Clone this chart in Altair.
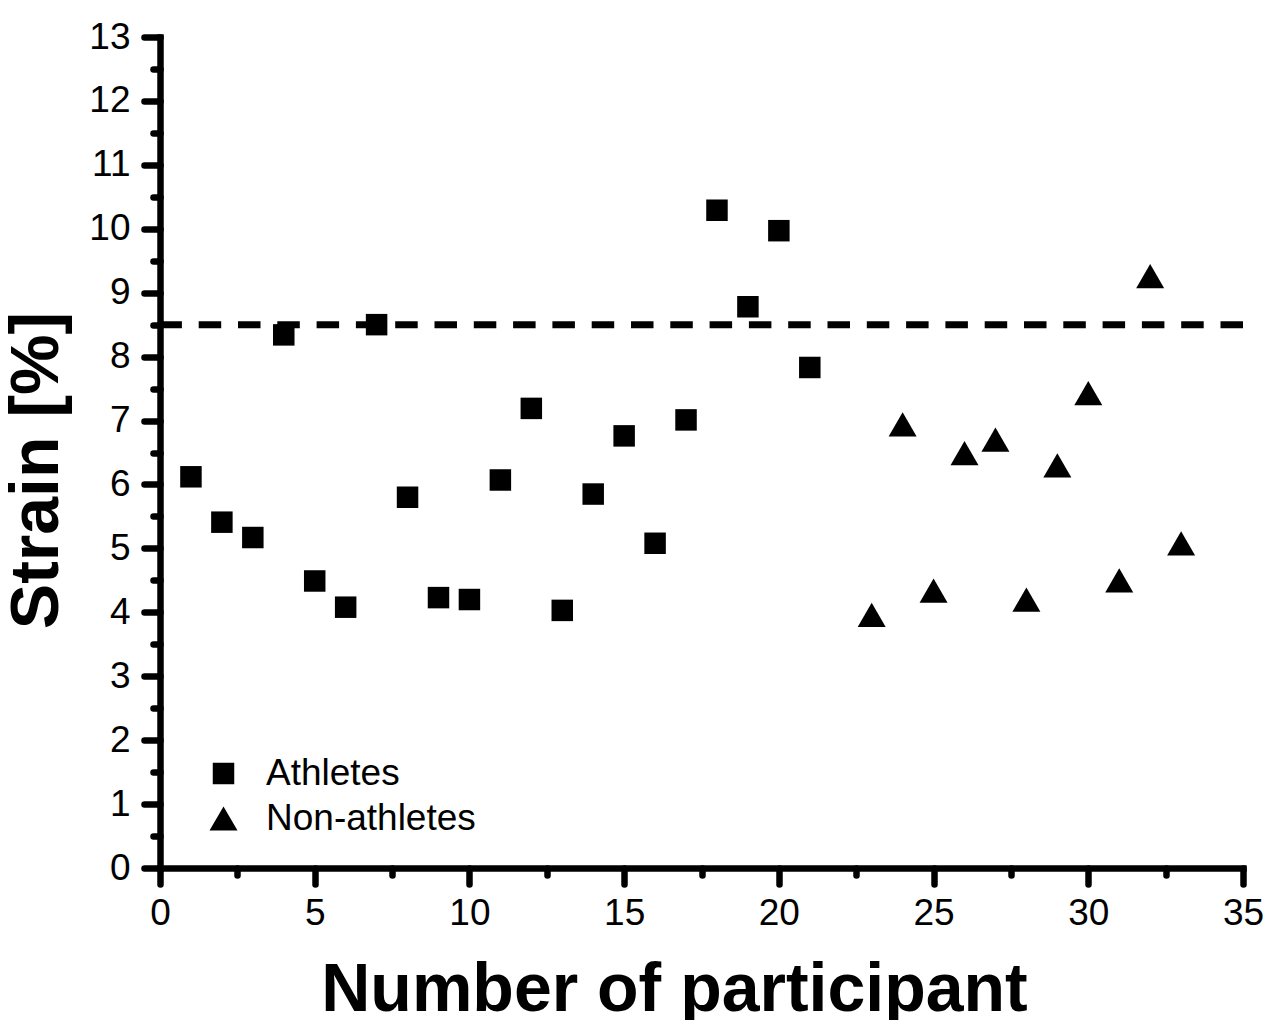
import altair as alt
import pandas as pd

# ---- data ----
athlete_ids = list(range(1, 22))
athlete_strain = [6.12, 5.41, 5.17, 8.34, 4.49, 4.08, 8.50, 5.80, 4.23, 4.20, 6.07,
                  7.19, 4.03, 5.85, 6.76, 5.08, 7.01, 10.29, 8.78, 9.97, 7.83]
non_athlete_ids = list(range(23, 34))
non_athlete_strain = [3.96, 6.94, 4.34, 6.49, 6.70, 4.20, 6.30, 7.43, 4.50, 9.26, 5.08]
threshold = 8.5
groups = ["Athletes", "Non-athletes"]
x_major_ticks = [0, 5, 10, 15, 20, 25, 30, 35]
x_minor_ticks = [2.5, 7.5, 12.5, 17.5, 22.5, 27.5, 32.5]
y_major_ticks = list(range(0, 14))
y_minor_ticks = [i + 0.5 for i in range(13)]

df = pd.DataFrame({
    "participant": athlete_ids + non_athlete_ids,
    "strain": athlete_strain + non_athlete_strain,
    "group": [groups[0]] * len(athlete_ids) + [groups[1]] * len(non_athlete_ids),
})

FONT = "Liberation Sans"

x_scale = alt.Scale(domain=[0, 35], nice=False, zero=False)
y_scale = alt.Scale(domain=[0, 13], nice=False, zero=False)

common = dict(tickWidth=6.5, tickCap="round", tickColor="black", grid=False)

x_axis = alt.Axis(
    orient="bottom", values=x_major_ticks, format="d", tickSize=16,
    domainWidth=6.5, domainColor="black", domainCap="square",
    labelFont=FONT, labelFontSize=37, labelColor="black", labelPadding=11,
    labelOverlap=False, labelFlush=False,
    title="Number of participant", titleFont=FONT, titleFontSize=68,
    titleFontWeight="bold", titleColor="black",
    titleX=514, titleY=142, titleBaseline="alphabetic", titleAlign="center",
    **common,
)
y_axis = alt.Axis(
    orient="left", values=y_major_ticks, format="d", tickSize=16,
    domainWidth=6.5, domainColor="black", domainCap="square",
    labelFont=FONT, labelFontSize=37, labelColor="black", labelPadding=14,
    labelOverlap=False, labelFlush=False,
    title="Strain [%]", titleFont=FONT, titleFontSize=68,
    titleFontWeight="bold", titleColor="black", titleAngle=270,
    titleX=-103, titleY=433, titleBaseline="alphabetic", titleAlign="center",
    **common,
)
x_minor_axis = alt.Axis(orient="bottom", values=x_minor_ticks, tickSize=7, labels=False,
                        domain=False, title=None, **common)
y_minor_axis = alt.Axis(orient="left", values=y_minor_ticks, tickSize=7, labels=False,
                        domain=False, title=None, **common)

legend = alt.Legend(title=None, orient="none", legendX=45, legendY=718,
                    labelFont=FONT, labelFontSize=37, labelColor="black", labelLimit=500,
                    labelOffset=24, rowPadding=7, padding=0,
                    symbolFillColor="black", symbolStrokeColor="black",
                    symbolOpacity=1, symbolStrokeWidth=0)

points = alt.Chart(df).mark_point(filled=True, opacity=1, color="black", strokeWidth=0).encode(
    x=alt.X("participant:Q", scale=x_scale, axis=x_axis),
    y=alt.Y("strain:Q", scale=y_scale, axis=y_axis),
    shape=alt.Shape("group:N", scale=alt.Scale(domain=groups, range=["square", "triangle-up"]),
                    legend=legend),
    size=alt.Size("group:N", scale=alt.Scale(domain=groups, range=[462, 784]), legend=legend),
)

minor = alt.Chart(df).mark_point(opacity=0).encode(
    x=alt.X("participant:Q", scale=x_scale, axis=x_minor_axis),
    y=alt.Y("strain:Q", scale=y_scale, axis=y_minor_axis),
)

rule = alt.Chart(pd.DataFrame({"t": [threshold]})).mark_rule(
    color="black", strokeWidth=7, strokeDash=[22.5, 16.8]
).encode(y=alt.Y("t:Q", scale=y_scale, axis=None))

chart = alt.layer(minor, rule, points).resolve_axis(
    x="independent", y="independent"
).properties(
    width=1083, height=831,
    autosize=alt.AutoSizeParams(type="none"),
    padding={"left": 152, "top": 29, "right": 28, "bottom": 152},
    background="white",
).configure_view(stroke=None).configure_axis(
    domainWidth=6.5, domainColor="black", tickWidth=6.5, tickColor="black",
    tickCap="round", grid=False,
)

chart.save("out.html", embed_options={"renderer": "svg", "actions": False})
